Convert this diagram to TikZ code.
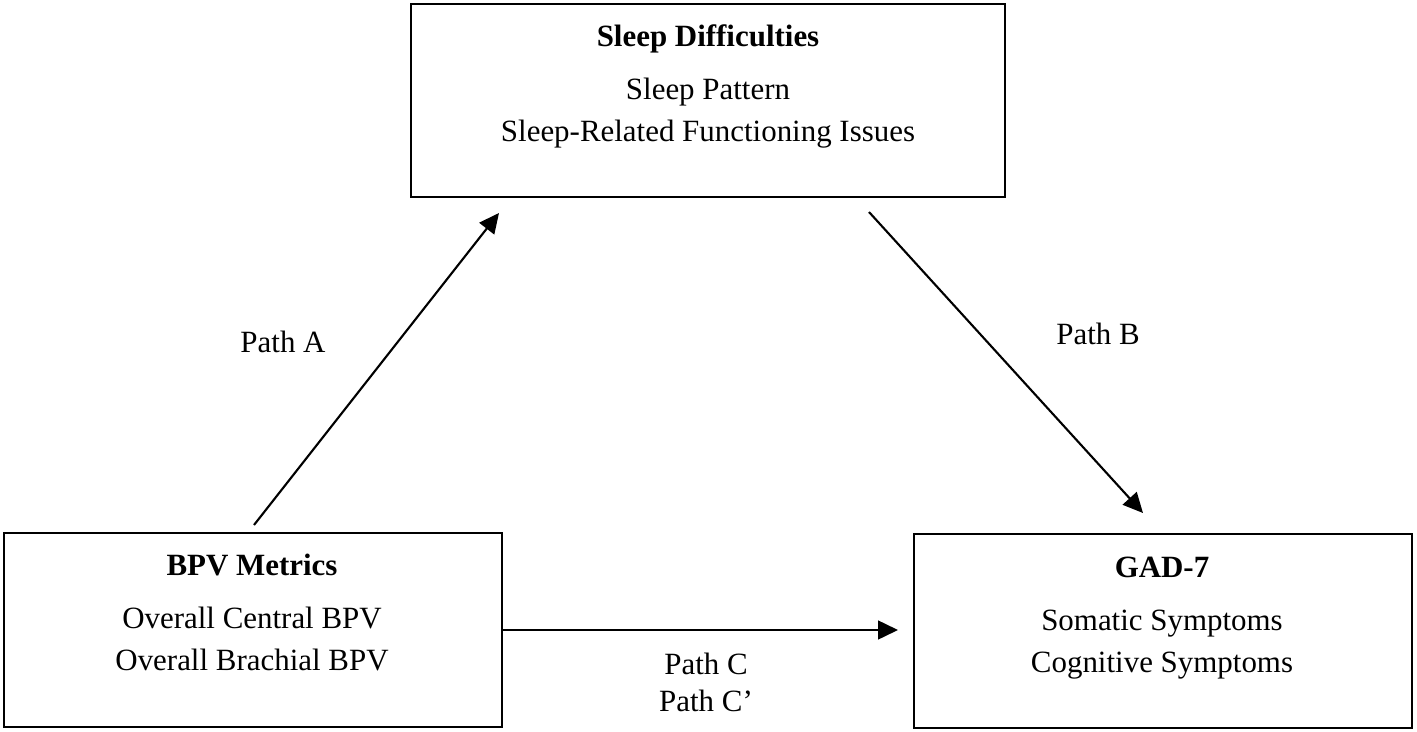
\documentclass[tikz,border=0pt]{standalone}
\usepackage{fontspec}
\setmainfont{Liberation Serif}
\usetikzlibrary{arrows.meta,positioning}

\begin{document}
\begin{tikzpicture}[x=0.015cm,y=-0.015cm,
	box/.style={draw,line width=0.8pt,inner sep=0pt},
	boxtext/.style={align=center,font=\fontsize{13.2}{17.9}\selectfont},
	pathlabel/.style={align=center,font=\fontsize{13.2}{15.8}\selectfont},
	link/.style={line width=0.9pt,-{Triangle[length=8.5pt,width=8pt]}}]
					\useasboundingbox (0,0) rectangle (1417,732);
					%BOXES
					\node[box,minimum width=8.91cm,minimum height=2.895cm] (sleep) at (708,100.5) {};
					\node[box,minimum width=7.47cm,minimum height=2.91cm] (bpv) at (253,630) {};
					\node[box,minimum width=7.47cm,minimum height=2.91cm] (gad) at (1163,631) {};
					
					\node[boxtext] (sleeptext) at (708,86.5) {\textbf{Sleep Difficulties}\\[4.7pt] Sleep Pattern\\ Sleep-Related Functioning Issues};
					\node[boxtext] (bpvtext) at (252,612.5) {\textbf{BPV Metrics}\\[4.7pt] Overall Central BPV\\ Overall Brachial BPV};
					\node[boxtext] (gadtext) at (1162,618.5) {\textbf{GAD-7}\\[4.7pt] Somatic Symptoms\\ Cognitive Symptoms};
					
					%ARROWS
					\coordinate (astart) at (254,525);
					\coordinate (aend) at (499,213);
					\coordinate (bstart) at (869,212);
					\coordinate (bend) at (1143,513);
					\coordinate (cend) at (898,630);
					\draw[link] (astart) -- (aend);
					\draw[link] (bstart) -- (bend);
					\draw[link] (bpv.east) -- (cend);
					
					\node[pathlabel] (patha) at (283,342) {Path A};
					\node[pathlabel] (pathb) at (1098,334) {Path B};
					\node[pathlabel] (pathc) at (706,682.5) {Path C\\ Path C’};
\end{tikzpicture}
\end{document}
